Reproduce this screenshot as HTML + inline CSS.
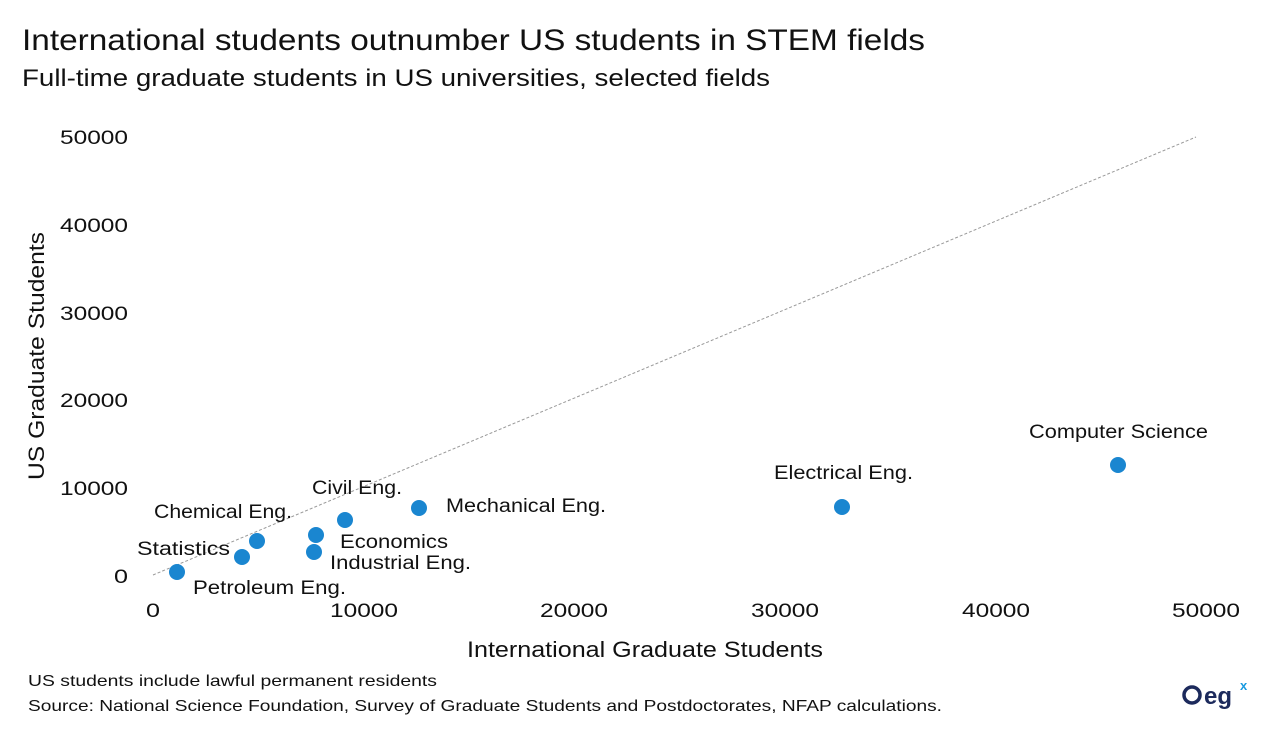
<!DOCTYPE html>
<html><head><meta charset="utf-8"><style>
body{margin:0;background:#fff;}
svg text{font-family:"Liberation Sans",sans-serif;fill:#111;}
</style></head><body>
<svg width="1280" height="731" viewBox="0 0 1280 731" xmlns="http://www.w3.org/2000/svg">
<text x="22" y="50" font-size="30" textLength="903" lengthAdjust="spacingAndGlyphs">International students outnumber US students in STEM fields</text>
<text x="22" y="86" font-size="24" textLength="748" lengthAdjust="spacingAndGlyphs">Full-time graduate students in US universities, selected fields</text>
<g font-size="19">
<text x="60" y="144" textLength="68" lengthAdjust="spacingAndGlyphs">50000</text>
<text x="60" y="232" textLength="68" lengthAdjust="spacingAndGlyphs">40000</text>
<text x="60" y="320" textLength="68" lengthAdjust="spacingAndGlyphs">30000</text>
<text x="60" y="407" textLength="68" lengthAdjust="spacingAndGlyphs">20000</text>
<text x="60" y="495" textLength="68" lengthAdjust="spacingAndGlyphs">10000</text>
<text x="114" y="583" textLength="14" lengthAdjust="spacingAndGlyphs">0</text>
</g>
<g font-size="19">
<text x="146" y="617" textLength="14" lengthAdjust="spacingAndGlyphs">0</text>
<text x="330" y="617" textLength="68" lengthAdjust="spacingAndGlyphs">10000</text>
<text x="540" y="617" textLength="68" lengthAdjust="spacingAndGlyphs">20000</text>
<text x="751" y="617" textLength="68" lengthAdjust="spacingAndGlyphs">30000</text>
<text x="962" y="617" textLength="68" lengthAdjust="spacingAndGlyphs">40000</text>
<text x="1172" y="617" textLength="68" lengthAdjust="spacingAndGlyphs">50000</text>
</g>
<text x="467" y="657" font-size="22" textLength="356" lengthAdjust="spacingAndGlyphs">International Graduate Students</text>
<text transform="translate(44,480) rotate(-90)" font-size="22" textLength="248" lengthAdjust="spacingAndGlyphs">US Graduate Students</text>
<line x1="153" y1="575" x2="1196" y2="137" stroke="#999" stroke-width="1" stroke-dasharray="3,2"/>
<g fill="#1a86d0">
<circle cx="1118" cy="465" r="8"/><circle cx="842" cy="507" r="8"/>
<circle cx="419" cy="508" r="8"/><circle cx="345" cy="520" r="8"/>
<circle cx="316" cy="535" r="8"/><circle cx="314" cy="552" r="8"/>
<circle cx="257" cy="541" r="8"/><circle cx="242" cy="557" r="8"/>
<circle cx="177" cy="572" r="8"/>
</g>
<g font-size="19">
<text x="1029" y="438" textLength="179" lengthAdjust="spacingAndGlyphs">Computer Science</text>
<text x="774" y="479" textLength="139" lengthAdjust="spacingAndGlyphs">Electrical Eng.</text>
<text x="446" y="512" textLength="160" lengthAdjust="spacingAndGlyphs">Mechanical Eng.</text>
<text x="312" y="494" textLength="90" lengthAdjust="spacingAndGlyphs">Civil Eng.</text>
<text x="340" y="548" textLength="108" lengthAdjust="spacingAndGlyphs">Economics</text>
<text x="330" y="569" textLength="141" lengthAdjust="spacingAndGlyphs">Industrial Eng.</text>
<text x="154" y="518" textLength="138" lengthAdjust="spacingAndGlyphs">Chemical Eng.</text>
<text x="137" y="555" textLength="93" lengthAdjust="spacingAndGlyphs">Statistics</text>
<text x="193" y="594" textLength="153" lengthAdjust="spacingAndGlyphs">Petroleum Eng.</text>
</g>
<text x="28" y="686" font-size="16" textLength="409" lengthAdjust="spacingAndGlyphs">US students include lawful permanent residents</text>
<text x="28" y="711" font-size="16" textLength="914" lengthAdjust="spacingAndGlyphs">Source: National Science Foundation, Survey of Graduate Students and Postdoctorates, NFAP calculations.</text>
<circle cx="1192" cy="695" r="8" fill="none" stroke="#1c2a5c" stroke-width="3.5"/>
<text x="1204" y="704" font-size="24" font-weight="bold" style="fill:#1c2a5c">eg</text>
<text x="1240" y="690" font-size="13" font-weight="bold" style="fill:#1a9be0">x</text>
</svg>
</body></html>
